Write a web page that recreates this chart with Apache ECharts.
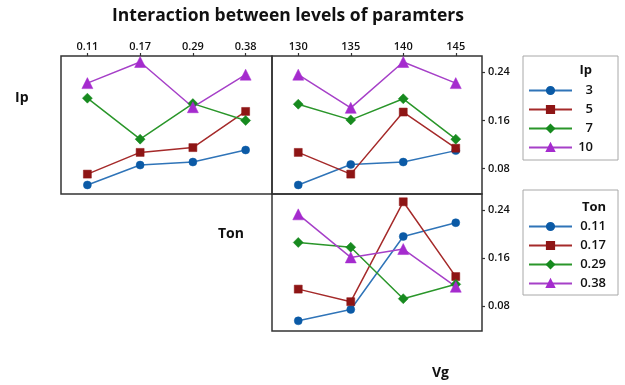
<!DOCTYPE html>
<html>
<head>
<meta charset="utf-8">
<script src="https://cdn.jsdelivr.net/npm/echarts@6/dist/echarts.min.js"></script>
<style>html,body{margin:0;padding:0;background:#fff}#c{width:625px;height:385px}</style>
</head>
<body>
<div id="c"></div>
<script>
// ---- data ----
const tonLevels = ['0.11', '0.17', '0.29', '0.38'];
const vgLevels = ['130', '135', '140', '145'];
const ipLevels = ['3', '5', '7', '10'];
const yTickValues = [0.08, 0.16, 0.24];

// Ip (lines) vs Ton (x) — top-left
const ip3Ton = [0.053, 0.086, 0.091, 0.111];
const ip5Ton = [0.071, 0.107, 0.115, 0.175];
const ip7Ton = [0.197, 0.129, 0.188, 0.160];
const ip10Ton = [0.222, 0.257, 0.182, 0.236];

// Ip (lines) vs Vg (x) — top-right
const ip3Vg = [0.053, 0.087, 0.091, 0.110];
const ip5Vg = [0.107, 0.071, 0.174, 0.114];
const ip7Vg = [0.187, 0.161, 0.196, 0.129];
const ip10Vg = [0.236, 0.181, 0.257, 0.222];

// Ton (lines) vs Vg (x) — bottom-right
const ton011Vg = [0.055, 0.074, 0.196, 0.219];
const ton017Vg = [0.108, 0.087, 0.254, 0.129];
const ton029Vg = [0.186, 0.178, 0.092, 0.116];
const ton038Vg = [0.233, 0.161, 0.175, 0.112];

// ---- styles ----
const FONT = '"Open Sans", "Noto Sans", sans-serif';
const markerColors = ['#0b5aa6', '#8e1515', '#178a1f', '#a52bce'];
const lineColors = ['#2f74b8', '#a52a2a', '#2a962a', '#a640c8'];
const symbols = ['circle', 'rect', 'diamond', 'triangle'];
const symbolSizes = [8, 8, 10, 11];

function mkSeries(name, data, idx, gi) {
  return {
    type: 'line', name: name, data: data,
    xAxisIndex: gi, yAxisIndex: gi,
    symbol: symbols[idx], symbolSize: symbolSizes[idx],
    showAllSymbol: true,
    itemStyle: { color: markerColors[idx], borderColor: markerColors[idx], borderWidth: 0.5 },
    lineStyle: { color: lineColors[idx], width: 1.5 },
    emphasis: { disabled: true },
    animation: false
  };
}

const yMin = 0.038, yMax = 0.267;
const gridBase = { show: true, borderColor: '#333', borderWidth: 1.5, containLabel: false };

function xAxis(gi, cats, showLabels) {
  return {
    type: 'category', gridIndex: gi, data: cats, position: 'top', boundaryGap: true,
    axisLine: { show: false },
    axisTick: { show: showLabels, alignWithLabel: true, length: 3, lineStyle: { color: '#333', width: 1.2 } },
    axisLabel: { show: showLabels, margin: 4, color: '#111', fontFamily: FONT, fontSize: 11, fontWeight: 600 },
    splitLine: { show: false }
  };
}
function yAxis(gi, showLabels) {
  return {
    type: 'value', gridIndex: gi, min: yMin, max: yMax, position: 'right',
    axisLine: { show: false },
    axisTick: { show: showLabels, length: 3, customValues: yTickValues, lineStyle: { color: '#333', width: 1.2 } },
    axisLabel: { show: showLabels, margin: 6, customValues: yTickValues, color: '#111', fontFamily: FONT, fontSize: 11, fontWeight: 600,
      formatter: v => v.toFixed(2) },
    splitLine: { show: false }
  };
}

const legendBase = {
  orient: 'vertical', itemWidth: 43, itemHeight: 9, itemGap: 6,
  borderColor: '#a8a8a8', borderWidth: 1, borderRadius: 0, backgroundColor: '#fff',
  textStyle: { fontFamily: FONT, fontSize: 13, fontWeight: 600, color: '#111' },
  selectedMode: false
};
function richText(w) {
  return Object.assign({}, legendBase.textStyle, {
    rich: { a: { width: w, align: 'right', lineHeight: 13, fontFamily: FONT, fontSize: 13, fontWeight: 600, color: '#111' } }
  });
}

const chart = echarts.init(document.getElementById('c'), null, { renderer: 'canvas' });
chart.setOption({
  animation: false,
  title: [
    { text: 'Interaction between levels of paramters', left: 112, top: 7, padding: 0,
      textStyle: { fontFamily: FONT, fontSize: 17.5, fontWeight: 'bold', color: '#111' } },
    { text: 'Ip', left: 15, top: 91, padding: 0, textStyle: { fontFamily: FONT, fontSize: 14, fontWeight: 'bold', color: '#111' } },
    { text: 'Ton', left: 218, top: 227, padding: 0, textStyle: { fontFamily: FONT, fontSize: 14, fontWeight: 'bold', color: '#111' } },
    { text: 'Vg', left: 432, top: 366, padding: 0, textStyle: { fontFamily: FONT, fontSize: 14, fontWeight: 'bold', color: '#111' } },
    { text: 'Ip', right: 33, top: 64, padding: 0, z: 10, textStyle: { fontFamily: FONT, fontSize: 13, fontWeight: 'bold', color: '#111' } },
    { text: 'Ton', right: 19, top: 201, padding: 0, z: 10, textStyle: { fontFamily: FONT, fontSize: 13, fontWeight: 'bold', color: '#111' } }
  ],
  grid: [
    Object.assign({ left: 61, top: 56, width: 211, height: 138 }, gridBase),
    Object.assign({ left: 272, top: 56, width: 210, height: 138 }, gridBase),
    Object.assign({ left: 272, top: 194, width: 210, height: 137 }, gridBase)
  ],
  xAxis: [xAxis(0, tonLevels, true), xAxis(1, vgLevels, true), xAxis(2, vgLevels, false)],
  yAxis: [yAxis(0, false), yAxis(1, true), yAxis(2, true)],
  legend: [
    Object.assign({}, legendBase, {
      data: ipLevels, left: 523, top: 56, padding: [28, 25, 6, 5],
      formatter: '{a|{name}}', textStyle: richText(16)
    }),
    Object.assign({}, legendBase, {
      data: tonLevels, left: 523, top: 190, padding: [30, 12, 5, 5],
      formatter: '{a|{name}}', textStyle: richText(29)
    })
  ],
  series: [
    mkSeries(ipLevels[0], ip3Ton, 0, 0),
    mkSeries(ipLevels[1], ip5Ton, 1, 0),
    mkSeries(ipLevels[2], ip7Ton, 2, 0),
    mkSeries(ipLevels[3], ip10Ton, 3, 0),
    mkSeries(ipLevels[0], ip3Vg, 0, 1),
    mkSeries(ipLevels[1], ip5Vg, 1, 1),
    mkSeries(ipLevels[2], ip7Vg, 2, 1),
    mkSeries(ipLevels[3], ip10Vg, 3, 1),
    mkSeries(tonLevels[0], ton011Vg, 0, 2),
    mkSeries(tonLevels[1], ton017Vg, 1, 2),
    mkSeries(tonLevels[2], ton029Vg, 2, 2),
    mkSeries(tonLevels[3], ton038Vg, 3, 2)
  ]
});
</script>
</body>
</html>
